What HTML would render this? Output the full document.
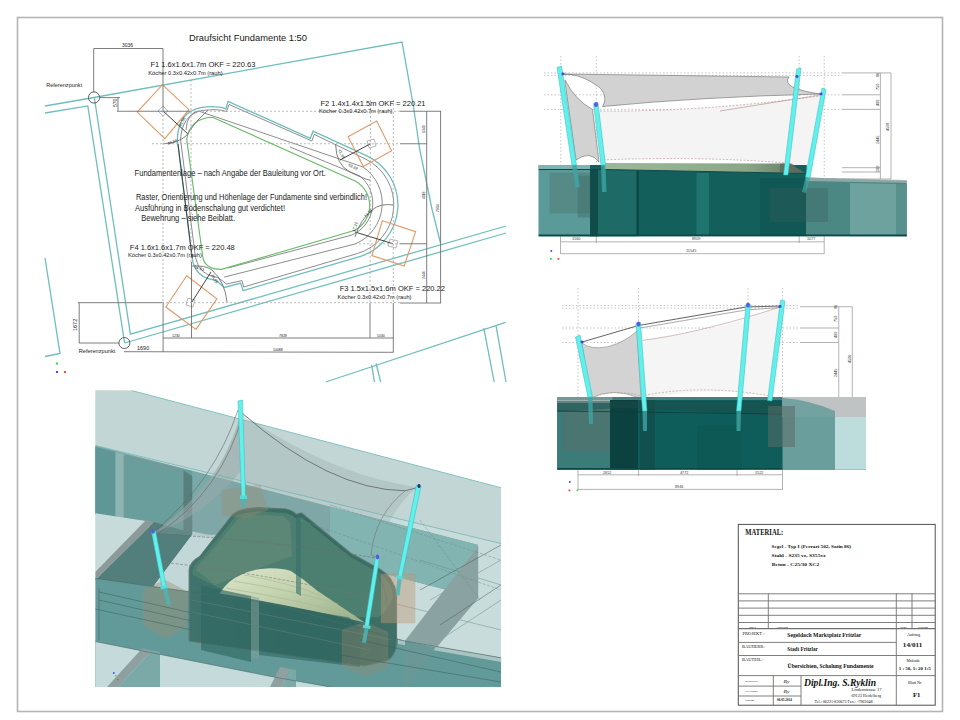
<!DOCTYPE html>
<html><head><meta charset="utf-8">
<style>
html,body{margin:0;padding:0;background:#fff;width:960px;height:720px;overflow:hidden}
svg{display:block}
text{font-family:"Liberation Sans",sans-serif}
.tl{fill:none;stroke:#6fbdbd;stroke-width:1.3}
.dm{fill:none;stroke:#707070;stroke-width:0.9}
.ds{fill:none;stroke:#a8a8a8;stroke-width:0.8;stroke-dasharray:2 2}
.or{fill:none;stroke:#e29a68;stroke-width:1.1}
.gr{fill:none;stroke:#66bb66;stroke-width:1.1}
.g1{fill:none;stroke:#808080;stroke-width:0.9}
.serif text{font-family:"Liberation Serif",serif}
</style></head>
<body>
<svg width="960" height="720" viewBox="0 0 960 720">
<rect x="0" y="0" width="960" height="720" fill="#fff"/>
<!-- page border -->
<rect x="17.5" y="17.5" width="925" height="694" fill="none" stroke="#b4b4b4" stroke-width="1.6"/>

<!-- ================= PLAN VIEW ================= -->
<g id="plan">
<!-- teal property lines -->
<polyline class="tl" points="45,106 94,97.5 402,42 413.4,106 419.8,150 432.2,210 440.5,243"/>
<polyline class="tl" points="45,113 87.8,105.9 124.6,343"/>
<polyline class="tl" points="94.4,98 130.4,334.2 506,226"/>
<polyline class="tl" points="124.6,343 506,233"/>
<polyline class="tl" points="45,258 60,353.5 45,356.5"/>
<polyline class="tl" points="325.7,382 505.6,322.4"/>
<polyline class="tl" points="371.6,364.8 374.5,382"/>
<polyline class="tl" points="376.1,363.5 380.7,382"/>
<polyline class="tl" points="483.8,328.1 494.2,382"/>
<polyline class="tl" points="496,325.4 506,382"/>

<!-- foundation outline -->
<path class="tl" d="M 192.2,258.3 Q 195,278 215.6,280 L 224.4,287.5 L 240.6,283.1 L 243.1,290.6 L 358.9,256.9 A 54.2 54.2 0 0 0 366.3,155.6 L 313.1,131.25 L 310.3,138.3 L 228.1,101.4 L 225.8,108.9 Q 218,105.5 201.6,107.3 Q 178,112 177.3,139.4 Z"/>
<path class="g1" d="M 195.5,257.5 Q 199,275.5 218,277.5 L 226.5,284 L 242,280.6 L 243.6,287 L 357.5,253.5 A 51 51 0 0 0 365.5,159 L 314.2,134.4 L 311.9,141 L 229,104.5 L 226.5,111.5 Q 218,108.5 202,110.5 Q 181.5,115 180.6,140 Z"/>
<path class="g1" stroke="#9a9a9a" d="M 224.2,277.1 L 355,244 A 44 44 0 0 0 363,167 L 198.4,111 Q 187,113 186,130"/>
<path class="g1" stroke="#a0a0a0" d="M 228,268 L 352,235 A 35 35 0 0 0 360,176 L 290,147"/>
<path class="gr" d="M 202.6,255.6 Q 204,269.4 221.4,269.4 L 354.2,230.6 A 28 28 0 0 0 355.6,181.25 L 212.5,117.2 Q 190,118 186.7,139.4 Z"/>
<polyline fill="none" stroke="#404040" stroke-width="1" points="178,144 192.2,258.3"/>
<!-- orange squares -->
<polygon class="or" points="162.5,84.7 189,109.7 164.8,138.6 137.2,112.1"/>
<polygon class="or" points="376.7,121.1 391.6,150.8 363.4,166.4 348.1,136.7"/>
<polygon class="or" points="382.3,220.8 415.6,231.7 404.2,266 371.9,255.6"/>
<polygon class="or" points="186.7,275.8 216.9,298.75 196,329.4 165.8,307"/>
<!-- small koecher squares -->
<polygon fill="none" stroke="#999" stroke-width="0.7" points="163,106 168,111 163,116 158,111"/>
<polygon fill="none" stroke="#999" stroke-width="0.7" points="367,141 374,139 376,146 369,148"/>
<polygon fill="none" stroke="#999" stroke-width="0.7" points="390,239 398,241 396,248 388,246"/>
<polygon fill="none" stroke="#999" stroke-width="0.7" points="188,298 195,300 193,307 186,305"/>
<!-- radial lines -->
<line x1="163" y1="111" x2="188" y2="134" stroke="#303030" stroke-width="0.9"/>
<line x1="370.5" y1="143.75" x2="340" y2="160" stroke="#303030" stroke-width="0.9"/>
<line x1="393" y1="243.75" x2="355" y2="232" stroke="#303030" stroke-width="0.9"/>
<line x1="191.5" y1="302.7" x2="211" y2="272" stroke="#303030" stroke-width="0.9"/>
<!-- angle arcs -->
<path class="dm" d="M 163,143.75 Q 178,143 186,136 Q 196,120 208,110"/>
<path class="dm" d="M 335.6,144.2 Q 336,165 350,172 T 370.3,180.3"/>
<path class="dm" d="M 355,237 Q 360,220 372,210 Q 380,203 394,205"/>
<path class="dm" d="M 191.5,266 Q 205,265 212,270 Q 225,282 227,302"/>
<!-- dimension lines solid -->
<g class="dm">
<polyline points="93.7,92 93.7,48.5 163,48.5 163,111"/>
<line x1="100" y1="97.6" x2="120" y2="97.6"/>
<line x1="118" y1="97.6" x2="118" y2="110.8"/>
<line x1="117" y1="111.25" x2="190" y2="111.25"/>
<line x1="400" y1="111.25" x2="441" y2="111.25"/>
<line x1="400" y1="143.75" x2="427" y2="143.75"/>
<line x1="400" y1="243.75" x2="427" y2="243.75"/>
<line x1="78" y1="302.7" x2="162" y2="302.7"/>
<line x1="400" y1="303" x2="441" y2="303"/>
<line x1="79" y1="343" x2="119" y2="343"/>
<line x1="79.2" y1="303" x2="79.2" y2="343"/>
<line x1="124" y1="351.7" x2="393.3" y2="352.3"/>
<line x1="163" y1="338" x2="393.3" y2="338"/>
<line x1="163.1" y1="302" x2="163.1" y2="352"/>
<line x1="191.5" y1="262" x2="191.5" y2="338"/>
<line x1="370" y1="303" x2="370" y2="338"/>
<line x1="393.3" y1="303" x2="393.3" y2="352.5"/>
<line x1="426.7" y1="111" x2="426.7" y2="303"/>
<line x1="440.6" y1="111" x2="440.6" y2="303"/>
</g>
<g class="ds">
<line x1="190" y1="111.25" x2="400" y2="111.25"/>
<line x1="152" y1="143.75" x2="400" y2="143.75"/>
<line x1="355" y1="243.75" x2="400" y2="243.75"/>
<line x1="162" y1="302.7" x2="400" y2="302.7"/>
<line x1="163" y1="111" x2="163" y2="302"/>
<line x1="191" y1="80" x2="191" y2="262"/>
<line x1="370.5" y1="100" x2="370" y2="303"/>
<line x1="393.3" y1="100" x2="393.3" y2="303"/>
</g>

<g fill="#222" font-size="4">
<text transform="translate(181,127) rotate(-62)">41.55</text>
<text transform="translate(168,145) rotate(-18)">48.85</text>
<text transform="translate(338,150) rotate(62)">41.38</text>
<text transform="translate(348,166) rotate(24)">62.52</text>
<text transform="translate(366,218) rotate(-48)">73.26</text>
<text transform="translate(355,232) rotate(-75)">17.21</text>
<text transform="translate(194,268) rotate(18)">34.63</text>
<text transform="translate(211,275) rotate(62)">29.15</text>
</g>
<!-- circles -->
<circle cx="94" cy="97.5" r="5.6" fill="none" stroke="#505050" stroke-width="0.9"/>
<circle cx="124.4" cy="343" r="5.5" fill="none" stroke="#505050" stroke-width="0.9"/>
<!-- texts -->
<g fill="#1a1a1a">
<text x="189" y="41" font-size="9.5" textLength="118" lengthAdjust="spacingAndGlyphs">Draufsicht Fundamente 1:50</text>
<text x="150.5" y="67.3" font-size="8" textLength="104.8" lengthAdjust="spacingAndGlyphs">F1  1.6x1.6x1.7m  OKF = 220.63</text>
<text x="148.3" y="74.7" font-size="5" textLength="74.3" lengthAdjust="spacingAndGlyphs">Köcher 0.3x0.42x0.7m (rauh)</text>
<text x="320.5" y="105.5" font-size="8" textLength="105" lengthAdjust="spacingAndGlyphs">F2  1.4x1.4x1.5m  OKF = 220.21</text>
<text x="319" y="112.7" font-size="5" textLength="73.5" lengthAdjust="spacingAndGlyphs">Köcher 0.3x0.42x0.7m (rauh)</text>
<text x="134.6" y="175.5" font-size="8.5" textLength="191" lengthAdjust="spacingAndGlyphs">Fundamentenlage – nach Angabe der Bauleitung vor Ort.</text>
<text x="136" y="200" font-size="8.5" textLength="231" lengthAdjust="spacingAndGlyphs">Raster, Orientierung und Höhenlage der Fundamente sind verbindlich!</text>
<text x="135" y="210.6" font-size="8.5" textLength="150" lengthAdjust="spacingAndGlyphs">Ausführung in Bodenschalung gut verdichtet!</text>
<text x="141.2" y="221.1" font-size="8.5" textLength="93.8" lengthAdjust="spacingAndGlyphs">Bewehrung – siehe Beiblatt.</text>
<text x="129.8" y="250.2" font-size="8" textLength="105" lengthAdjust="spacingAndGlyphs">F4  1.6x1.6x1.7m  OKF = 220.48</text>
<text x="128" y="257.3" font-size="5" textLength="73.8" lengthAdjust="spacingAndGlyphs">Köcher 0.3x0.42x0.7m (rauh)</text>
<text x="339.7" y="291" font-size="8" textLength="105.3" lengthAdjust="spacingAndGlyphs">F3  1.5x1.5x1.6m  OKF = 220.22</text>
<text x="337.6" y="298.7" font-size="5" textLength="73.9" lengthAdjust="spacingAndGlyphs">Köcher 0.3x0.42x0.7m (rauh)</text>
<text x="46.2" y="87" font-size="5.5" textLength="36" lengthAdjust="spacingAndGlyphs">Referenzpunkt</text>
<text x="78.7" y="352.8" font-size="5.5" textLength="36.6" lengthAdjust="spacingAndGlyphs">Referenzpunkt</text>
<text x="122" y="47" font-size="5">3036</text>
<text x="137" y="350" font-size="5.5">1690</text>
<text x="172" y="337" font-size="3.5">1230</text>
<text x="279" y="337" font-size="3.5">7828</text>
<text x="377" y="337" font-size="3.5">1030</text>
<text x="273" y="351" font-size="3.5">10088</text>
<text transform="translate(117,107) rotate(-90)" font-size="5">570</text>
<text transform="translate(77,331) rotate(-90)" font-size="5.5">1672</text>
<text transform="translate(425,133) rotate(-90)" font-size="3.5">1340</text>
<text transform="translate(425,199) rotate(-90)" font-size="3.5">4118</text>
<text transform="translate(425,279) rotate(-90)" font-size="3.5">2446</text>
<text transform="translate(439,212) rotate(-90)" font-size="3.5">7904</text>
</g>
<!-- axis marker -->
<rect x="56" y="362.5" width="2" height="2" fill="#33dd33"/>
<rect x="56" y="371" width="2" height="2" fill="#4444ff"/>
<rect x="64" y="371" width="2" height="2" fill="#ff4444"/>
</g>

<!-- ================= ELEVATION 1 (top right) ================= -->
<g id="elev1">
<!-- dotted guides -->
<g fill="none" stroke="#b8b8b8" stroke-width="0.8" stroke-dasharray="1.5 2">
<line x1="560.8" y1="56" x2="560.8" y2="236"/>
<line x1="596.3" y1="56" x2="596.3" y2="236"/>
<line x1="799.2" y1="56" x2="799.2" y2="236"/>
<line x1="824.2" y1="56" x2="824.2" y2="236"/>
<line x1="544" y1="72.9" x2="842" y2="72.9"/>
<line x1="544" y1="75.4" x2="842" y2="75.4"/>
<line x1="544" y1="94.8" x2="842" y2="94.8"/>
<line x1="544" y1="109.4" x2="842" y2="109.4"/>
</g>
<g fill="none" stroke="#a0a0a0" stroke-width="0.8">
<line x1="842" y1="72.9" x2="891" y2="72.9"/>
<line x1="842" y1="94.8" x2="880.4" y2="94.8"/>
<line x1="842" y1="109.4" x2="880.4" y2="109.4"/>
<line x1="842" y1="167.7" x2="880.4" y2="167.7"/>
<line x1="842" y1="172" x2="880.4" y2="172"/>
<line x1="842" y1="179" x2="891" y2="179"/>
<line x1="880.4" y1="72.9" x2="880.4" y2="179"/>
<line x1="891" y1="72.9" x2="891" y2="179"/>
<line x1="560.5" y1="236" x2="560.5" y2="254"/>
<line x1="596.3" y1="236" x2="596.3" y2="243"/>
<line x1="799.2" y1="236" x2="799.2" y2="243"/>
<line x1="824.2" y1="236" x2="824.2" y2="254"/>
<line x1="560.5" y1="241.8" x2="824.2" y2="241.8"/>
<line x1="560.5" y1="253.7" x2="824.2" y2="253.7"/>
</g>
<g fill="#3a3a3a" font-size="3.8">
<text x="572" y="240">1560</text>
<text x="692" y="240">8909</text>
<text x="807" y="240">1077</text>
<text x="686" y="252">11545</text>
<text transform="translate(879,77) rotate(-90)">86</text>
<text transform="translate(879,90) rotate(-90)">750</text>
<text transform="translate(879,106) rotate(-90)">400</text>
<text transform="translate(879,144) rotate(-90)">2445</text>
<text transform="translate(879,172) rotate(-90)">200</text>
<text transform="translate(889,131) rotate(-90)">4508</text>
</g>
<rect x="550.5" y="250" width="1.6" height="2" fill="#5555ff"/>
<rect x="550" y="258" width="1.8" height="1.8" fill="#44dd44"/>
<rect x="557.5" y="258" width="1.8" height="1.8" fill="#ff4444"/>
<!-- light sail region -->
<path fill="#f4f4f4" d="M 600,111 Q 700,112 820,96 L 807,175 L 786,175 L 786,163 Q 700,156 600,160 Z"/>
<!-- dark sail -->
<path fill="#d2d2d2" stroke="#6a6a6a" stroke-width="0.6" d="M 563,74 L 789,77 Q 780,88 820,94 Q 700,97 602.5,106.5 C 607,100 605,90 596,85 Q 585,77 571,74.5 Z"/>
<path fill="#d2d2d2" stroke="#6a6a6a" stroke-width="0.6" d="M 565,80 Q 575,100 592.5,109.4 L 599,162 Q 590,150 576,160 L 565,82 Z"/>
<path fill="none" stroke="#b08888" stroke-width="0.6" stroke-dasharray="2 1.5" d="M 600,111 Q 700,112 820,96"/>
<path fill="none" stroke="#b08888" stroke-width="0.6" stroke-dasharray="2 1.5" d="M 600,160 Q 700,156 786,163"/>
<path fill="none" stroke="#b08888" stroke-width="0.6" d="M 720,111 L 820,95"/>
<!-- block -->
<defs>
<linearGradient id="band1" x1="0" y1="0" x2="1" y2="0">
<stop offset="0" stop-color="#9cb89a"/><stop offset="0.7" stop-color="#8aa888"/><stop offset="1" stop-color="#5f735f"/>
</linearGradient>
</defs>
<rect x="538.75" y="165" width="268" height="71.25" fill="#125f5c"/>
<rect x="538.75" y="165" width="51.25" height="71.25" fill="#5a9a98"/>
<rect x="538.75" y="165" width="51.25" height="4.5" fill="#7eb4b2"/>
<rect x="549.6" y="172.7" width="58.4" height="40.6" fill="#4f7a76" opacity="0.5"/>
<rect x="577.7" y="175.8" width="52" height="41.7" fill="#3f6b67" opacity="0.45"/>
<rect x="590" y="170" width="48" height="66.25" fill="#1d6a67"/>
<rect x="590" y="170" width="8" height="66.25" fill="#0f4c4a"/>
<rect x="636.5" y="170" width="2.2" height="66" fill="#0a4644"/>
<rect x="696.5" y="173" width="12.5" height="63" fill="#1f7470"/>
<rect x="760" y="178" width="46" height="58" fill="#0d5350" opacity="0.6"/>
<polygon fill="url(#band1)" points="604,163 790,163.5 806,173.5 604,169.5"/>
<polygon fill="#4e5e56" opacity="0.5" points="780,163.5 792,163.5 806,173.5 780,172"/>
<polyline fill="none" points="538.75,169.5 604,169.5 806,173.5" stroke="#0e4a47" stroke-width="1"/>
<polygon fill="#4b8783" points="806,177.5 906.75,181 906.75,236.25 806,236.25"/>
<polygon fill="#6ea29f" points="850,183 896,184 896,236.25 850,236.25"/>
<polygon fill="#58908c" points="896,184 906.75,184.5 906.75,236.25 896,236.25"/>
<polygon fill="#98aeac" opacity="0.85" points="806,177.5 906.75,180 906.75,183 806,181"/>
<rect x="770" y="188" width="58" height="34" fill="#3a5e5b" opacity="0.35"/>
<rect x="538.75" y="234.5" width="368" height="1.75" fill="#0a4a47"/>
<!-- masts -->
<polygon fill="#62f0ec" stroke="#36b8b8" stroke-width="0.5" points="557,67.5 561.5,66 576.5,165 572,165.5"/>
<polygon fill="#3fa5a3" opacity="0.8" points="572,165.5 576.5,165 580,187 575.5,188"/>
<polygon fill="#62f0ec" stroke="#36b8b8" stroke-width="0.5" points="593.5,103.5 598,102.5 605.5,165 601,165.5"/>
<polygon fill="#3fa5a3" opacity="0.8" points="601,165.5 605.5,165 606.5,192 602,192"/>
<polygon fill="#62f0ec" stroke="#36b8b8" stroke-width="0.5" points="796.5,69 801,68 788,175 783.5,175"/>
<polygon fill="#62f0ec" stroke="#36b8b8" stroke-width="0.5" points="822,88 826,89.5 810,178 805.5,177"/>
<polygon fill="#3fa5a3" opacity="0.7" points="805.5,177 810,178 806,193 802,192"/>
<ellipse cx="596" cy="104.5" rx="2" ry="2.5" fill="#5a5ae6"/>
<ellipse cx="563" cy="74" rx="1.6" ry="1.4" fill="#4a4ad8"/>
<ellipse cx="797" cy="76.5" rx="1.6" ry="1.4" fill="#4a4ad8"/>
<ellipse cx="821" cy="94" rx="1.6" ry="1.4" fill="#4a4ad8"/>
</g>

<!-- ================= ELEVATION 2 (middle right) ================= -->
<g id="elev2">
<g fill="none" stroke="#b8b8b8" stroke-width="0.8" stroke-dasharray="1.5 2">
<line x1="578" y1="288" x2="578" y2="470"/>
<line x1="638.5" y1="288" x2="638.5" y2="470"/>
<line x1="748" y1="288" x2="748" y2="470"/>
<line x1="782.5" y1="288" x2="782.5" y2="470"/>
<line x1="562" y1="305.5" x2="800" y2="305.5"/>
<line x1="562" y1="308" x2="800" y2="308"/>
<line x1="562" y1="328" x2="800" y2="328"/>
<line x1="562" y1="342.5" x2="800" y2="342.5"/>
</g>
<g fill="none" stroke="#a0a0a0" stroke-width="0.8">
<line x1="800" y1="306.7" x2="852.3" y2="306.7"/>
<line x1="800" y1="328" x2="838.75" y2="328"/>
<line x1="800" y1="342.5" x2="838.75" y2="342.5"/>
<line x1="838.75" y1="306.7" x2="838.75" y2="417"/>
<line x1="852.3" y1="306.7" x2="852.3" y2="417"/>
<line x1="578" y1="470" x2="578" y2="490"/>
<line x1="638.6" y1="470" x2="638.6" y2="476"/>
<line x1="737" y1="470" x2="737" y2="476"/>
<line x1="782.5" y1="470" x2="782.5" y2="490"/>
<line x1="578" y1="474.8" x2="782.5" y2="474.8"/>
<line x1="578" y1="489.4" x2="782.5" y2="489.4"/>
</g>
<g fill="#3a3a3a" font-size="3.8">
<text x="603" y="474">2652</text>
<text x="680" y="474">4772</text>
<text x="755" y="474">1522</text>
<text x="675" y="488">8946</text>
<text transform="translate(837,309) rotate(-90)">86</text>
<text transform="translate(837,322) rotate(-90)">750</text>
<text transform="translate(837,338) rotate(-90)">400</text>
<text transform="translate(837,377) rotate(-90)">2445</text>
<text transform="translate(837,410) rotate(-90)">200</text>
<text transform="translate(851,363) rotate(-90)">4506</text>
</g>
<rect x="569" y="481" width="1.6" height="2" fill="#5555ff"/>
<rect x="568.5" y="489.5" width="1.8" height="1.8" fill="#ff4444"/>
<rect x="576.5" y="489.5" width="1.8" height="1.8" fill="#44dd44"/>
<!-- light sail -->
<path fill="#f5f5f5" d="M 642.7,340.4 Q 700,333 743.75,319.6 L 780.4,307 L 768,395.6 Q 700,385 645,400 Z"/>
<!-- gray sail -->
<path fill="#d3d3d3" stroke="#777" stroke-width="0.5" d="M 582,343 Q 590,350 608,346.7 Q 625,342 637,331 L 641,398.75 Q 612,386 590,398.75 Z"/>
<path fill="none" stroke="#b09090" stroke-width="0.6" d="M 642.7,340.4 Q 700,333 780.4,307"/>
<path fill="none" stroke="#b09090" stroke-width="0.6" stroke-dasharray="2 1.5" d="M 590,399 Q 612,388 641,396 Q 700,384 768,395.6"/>
<path fill="none" stroke="#505050" stroke-width="0.9" d="M 582,342 L 638.5,325.5 L 746,307 L 780,306"/>
<path fill="none" stroke="#888" stroke-width="0.7" d="M 640,328 L 746,310 L 780,307.5"/>
<!-- block -->
<rect x="557.3" y="397" width="308.7" height="72.6" fill="#0f5d5a"/>
<rect x="557.3" y="397" width="53" height="72.6" fill="#3b7c79"/>
<rect x="557.3" y="397" width="55" height="6" fill="#9fb3b1"/>
<rect x="563.5" y="409" width="46.5" height="41.8" fill="#5a6f6a" opacity="0.55"/>
<rect x="610" y="400" width="28" height="69.6" fill="#0b4240"/>
<rect x="640" y="397" width="15" height="72.6" fill="#11504e"/>
<rect x="557.3" y="397" width="225" height="3" fill="#5f8e8b" opacity="0.7"/>
<polygon fill="#1f4a47" opacity="0.45" points="557.3,401 782.5,401 782.5,416 700,411 620,408 557.3,412"/>
<line x1="557.3" y1="411" x2="782.5" y2="414" stroke="#0c3e3c" stroke-width="0.8"/>
<rect x="697" y="425" width="45" height="44.6" fill="#0c5653" opacity="0.6"/>
<rect x="782.5" y="397" width="52.5" height="72.6" fill="#6a9e9c"/>
<rect x="835" y="397" width="31" height="72.6" fill="#bddcdc"/>
<rect x="782.5" y="397" width="83.5" height="20" fill="#bfc3c3"/>
<path fill="#6a9e9c" d="M 782.5,398 Q 810,400 835,411 L 835,417 L 782.5,417 Z" opacity="0.9"/>
<rect x="768" y="406" width="27" height="41" fill="#5a6b67" opacity="0.55"/>
<rect x="557.3" y="468" width="225.2" height="1.6" fill="#0a4a47"/>
<!-- masts -->
<polygon fill="#62f0ec" stroke="#36b8b8" stroke-width="0.5" points="575.5,337 580,335 592.5,397 588,397.5"/>
<polygon fill="#3fa5a3" opacity="0.8" points="588,397.5 592.5,397 593,424 589,424"/>
<polygon fill="#62f0ec" stroke="#36b8b8" stroke-width="0.5" points="636,323 640.5,322.5 647,411 642.5,411"/>
<polygon fill="#3fa5a3" opacity="0.8" points="642.5,411 647,411 647,431 643,431"/>
<polygon fill="#62f0ec" stroke="#36b8b8" stroke-width="0.5" points="746,304 750.5,304.5 741,411 736.5,411"/>
<polygon fill="#3fa5a3" opacity="0.8" points="736.5,411 741,411 740.5,431 736.5,431"/>
<polygon fill="#62f0ec" stroke="#36b8b8" stroke-width="0.5" points="780.5,300 785,301 772,401 767.5,400.5"/>
<ellipse cx="638.5" cy="324" rx="2" ry="2.6" fill="#5a5ae6"/>
<ellipse cx="748" cy="305" rx="2" ry="2.6" fill="#5a5ae6"/>
<ellipse cx="582" cy="342" rx="1.6" ry="1.4" fill="#4a4ad8"/>
<ellipse cx="780" cy="306.5" rx="1.6" ry="1.4" fill="#4a4ad8"/>
</g>

<!-- ================= 3D VIEW ================= -->
<g id="v3d">
<clipPath id="c3d"><rect x="95.25" y="390.25" width="406" height="296.65"/></clipPath>
<g clip-path="url(#c3d)">
<polygon fill="#c9dcdc" points="95.25,390.25 131.6,390.5 501.25,487.8 501.25,686.9 95.25,686.9"/>
<!-- top slab -->
<polygon fill="#c3d6d6" points="95.25,390.25 131.6,390.5 501.25,487.8 501.25,543.6 95.25,445.5"/>
<polyline fill="none" stroke="#7fc0c0" stroke-width="0.9" points="131.6,390.5 501.25,487.8"/>
<!-- middle teal band under slab -->
<polygon fill="#79aaa9" points="95.25,445.5 478,545 478,598 404.8,579 330,560 190,531 95.25,514.7"/>
<!-- upper-left wall panels -->
<polygon fill="#6a9e9c" points="95.25,447 192.2,471 192.2,533 95.25,513.3"/>
<polygon fill="#5f9796" points="95.25,447 115.4,452 115.4,516.5 95.25,513.3"/>
<polygon fill="#8cb5b4" points="115.4,452 124.2,454 124.2,518 115.4,516.5"/>
<polygon fill="none" stroke="#7d9695" stroke-width="1.2" points="124.2,457 183.5,470.5 183.5,532.8 124.2,519"/>
<polygon fill="#577f7d" points="183.5,470.5 192.2,476 192.2,533 183.5,532.8"/>
<!-- light ground left -->
<polygon fill="#c7dbdb" points="95.25,513.3 146,521 95.25,572"/>
<!-- dark beam side face -->
<polygon fill="#527e7c" points="154,522 192.2,533 192.2,534.7 153,587 95.25,580"/>
<!-- gray beam -->
<polygon fill="#8c9a9a" points="146,520 154,522 95.25,580 95.25,572"/>

<!-- light strip -->
<polygon fill="#c2d8d8" points="192.2,534.7 219.4,534.7 188,591 153,587"/>
<polygon fill="#8fb0af" points="219.4,534.7 230,538 200,592 188,591"/>
<!-- sail translucent -->
<path fill="#8fa0a0" opacity="0.28" d="M 241,413 Q 330,475 417,487 Q 385,515 377,557 Q 280,540 153,533 Q 215,500 241,413 Z"/>
<path fill="#9aa9a9" opacity="0.5" d="M 240,415 Q 225,480 155,532 Q 200,520 242,470 Z"/>
<!-- right box top face -->
<polygon fill="#82b4b2" points="330,506.7 478.1,544.8 478.1,598.3 404.8,579 330,560"/>
<g fill="none" stroke="#6d8f8e" stroke-width="0.5"><line x1="420" y1="560" x2="501" y2="585"/><line x1="430" y1="600" x2="501" y2="560"/><line x1="440" y1="640" x2="501" y2="600"/><line x1="380" y1="600" x2="501" y2="630"/></g>
<polygon fill="#8aa3a2" points="404.8,641 478.1,546.4 478.1,598.3 404.8,685.3"/>
<!-- lower wall -->
<polygon fill="#619a98" points="95.25,578.3 270,603.3 404.8,641 501.25,657.8 501.25,686.9 95.25,686.9 95.25,641.5"/>
<polygon fill="#a9c4c3" points="398,640 501.25,658 501.25,662 398,644"/>
<polygon fill="#6a9896" points="405,641 435.6,647.2 407.8,686.9 405,686.9"/>
<polygon fill="#c5dada" points="95.25,641.5 270,676.3 330,686.9 95.25,686.9"/>
<polygon fill="#8fa0a0" points="142,648.5 152,650.5 118,686.9 107,686.9"/>
<polygon fill="#7aa9a7" points="152,650.5 160,652 160,686.9 118,686.9"/>
<polygon fill="#8fa0a0" points="280,667 290,669 282,686.9 270,686.9"/><polygon fill="#7aa9a7" points="290,669 296,670 296,686.9 282,686.9"/>
<!-- foundation -->
<defs>
<linearGradient id="pan" x1="0" y1="0" x2="1" y2="1">
<stop offset="0" stop-color="#dde6cb"/><stop offset="0.4" stop-color="#c6d4b1"/><stop offset="1" stop-color="#97ad88"/>
</linearGradient>
<linearGradient id="fface" x1="0" y1="0" x2="1" y2="0">
<stop offset="0" stop-color="#3f736b"/><stop offset="0.6" stop-color="#356b62"/><stop offset="1" stop-color="#3d6f66"/>
</linearGradient>
</defs>
<path fill="url(#fface)" stroke="#5b7774" stroke-width="1.2" d="M 189.2,641 L 189.2,569.8 Q 190,562 199.8,556.6 L 232.8,514.3 Q 240,508 259.2,507.7 L 285.6,509 Q 292,510 296.2,514.3 L 301.5,513 L 351.6,553.9 L 356.9,556.6 L 380.7,569.8 Q 393,577 396.5,593.5 L 396.5,643.7 Q 395,660 380.7,662.2 L 364.8,666 Z"/>
<path fill="#4c7f70" d="M 192.5,575 L 192.5,570 Q 194,563 202,558 L 235,517 Q 242,512 259,511.5 L 285,513 Q 291,514 295,518 L 301,517 L 351,557.5 L 356,560 L 379,573 Q 391,580 393.5,596 Q 388,612 378,617.3 L 349,617.3 L 219.6,588.2 Z"/>
<path fill="#6a8c7c" opacity="0.55" d="M 196,570 Q 198,563 205,559 L 237,520 Q 244,515 259,515 L 284,516 L 290,522 L 292,556 L 215,585 Z"/>
<path fill="url(#pan)" d="M 219.6,593.5 Q 228,580 240.7,575 Q 252,569 267,568.4 Q 282,568 290.9,571 Q 305,580 317.3,590.8 L 364.8,622.5 Q 300,607 219.6,593.5 Z"/>
<path fill="none" stroke="#a9bb95" stroke-width="0.7" d="M 226,588 Q 300,600 355,616 M 234,581 Q 300,592 338,604 M 244,575 Q 290,583 322,596"/>
<polygon fill="#2f6863" opacity="0.65" points="201,585.6 251,596 251,662 201,650"/>
<polygon fill="#2e6560" opacity="0.6" points="259,603 349,617.3 360,628 360,667 259,655"/>
<polygon fill="#7f9d9a" opacity="0.5" points="251,596 259,598 259,660 251,658"/>
<polygon fill="#35706a" opacity="0.6" points="296,516 301,514 301,596 296,593"/>
<path fill="none" stroke="#456f68" stroke-width="0.8" d="M 378,574 Q 392,600 386,630 Q 374,655 345,664"/>
<path fill="none" stroke="#5f7e7a" stroke-width="0.6" d="M 192,600 L 392,640 M 192,612 L 370,650"/>
<!-- orange koecher boxes -->
<polygon fill="#a08c70" opacity="0.35" stroke="#b08a6a" stroke-width="0.5" points="222,490 260,485 268,510 245,518 222,515"/>
<polygon fill="#a08c70" opacity="0.4" stroke="#b08a6a" stroke-width="0.5" points="143.5,590 165,580 188,592 186,628 165,638 143.5,625"/>
<polygon fill="#c09a78" opacity="0.45" stroke="#b08a6a" stroke-width="0.5" points="381,574 415,574 415,623 381,623"/>
<polygon fill="#9a8a70" opacity="0.35" stroke="#b08a6a" stroke-width="0.5" points="342,630 365,622 388,632 388,668 365,676 342,666"/>
<!-- cables -->
<path fill="none" stroke="#555" stroke-width="0.7" d="M 242,413 Q 330,490 405,490.8 L 416,488"/>
<path fill="none" stroke="#666" stroke-width="0.6" d="M 238,410 Q 215,480 155,531"/>
<path fill="none" stroke="#666" stroke-width="0.6" d="M 243,414 Q 222,490 159,533"/>
<path fill="none" stroke="#777" stroke-width="0.6" d="M 405,491 Q 375,515 371,555 L 376,557"/>
<path fill="none" stroke="#6f6f6f" stroke-width="0.6" stroke-dasharray="3 1.5" d="M 157,534 Q 270,540 376,558"/>
<path fill="none" stroke="#777" stroke-width="0.6" stroke-dasharray="3 1.5" d="M 140,560 Q 250,570 380,600"/>
<path fill="none" stroke="#6e8e8c" stroke-width="0.5" stroke-dasharray="3 1.5" d="M 300,520 L 501,590 M 330,505 L 501,560 M 420,520 L 480,600"/>
<!-- dark edge lines -->
<g fill="none" stroke="#3f5f5d" stroke-width="0.5">
<line x1="99" y1="592" x2="192" y2="613"/>
<line x1="99" y1="600" x2="192" y2="621"/>
<line x1="95.25" y1="609" x2="192" y2="630"/>
<line x1="99" y1="588" x2="99" y2="640"/>
<line x1="360" y1="640" x2="501" y2="672"/>
<line x1="340" y1="655" x2="501" y2="682"/>
<line x1="420" y1="590" x2="501" y2="545"/>
<line x1="440" y1="625" x2="501" y2="585"/>
</g>
<polyline fill="none" stroke="#4a6b6a" stroke-width="0.6" points="95.25,578.3 270,603.3 404.8,641 501.25,657.8"/>
<polyline fill="none" stroke="#4a6b6a" stroke-width="0.6" points="95.25,641.5 270,676.3 330,686.9"/>
<polyline fill="none" stroke="#6ab0ae" stroke-width="0.7" points="95.25,445.5 501.25,543.6"/>
<!-- masts -->
<polygon fill="#62f0ec" stroke="#36b8b8" stroke-width="0.5" points="238,401 242.5,400 245.5,497 241.5,497"/>
<rect x="240" y="495.5" width="7" height="3.5" fill="#52dcdc"/>
<polygon fill="#4fb5b3" opacity="0.85" points="241.5,499 245.5,499 245.5,507 241.5,507"/>
<polygon fill="#62f0ec" stroke="#36b8b8" stroke-width="0.5" points="151.5,532 155.5,530.5 166.5,588 162.5,589"/>
<rect x="160.5" y="586" width="7.5" height="3" fill="#52dcdc" transform="rotate(-10 164 587)"/>
<polygon fill="#4fb5b3" opacity="0.85" points="163,589 167,588 171,605 167,606"/>
<polygon fill="#62f0ec" stroke="#36b8b8" stroke-width="0.5" points="416.5,485 421,486.5 401.5,578.5 397.5,578"/>
<rect x="396" y="576" width="7.5" height="3" fill="#52dcdc" transform="rotate(12 400 577)"/>
<polygon fill="#4fb5b3" opacity="0.85" points="397.5,579 401.5,579.5 399.5,595.5 395.5,595"/>
<polygon fill="#62f0ec" stroke="#36b8b8" stroke-width="0.5" points="375.5,557 379.5,557.5 368.5,627.5 364.5,627"/>
<rect x="363" y="625.5" width="7.5" height="3" fill="#52dcdc" transform="rotate(9 366.7 627)"/>
<polygon fill="#4fb5b3" opacity="0.85" points="364.5,628.5 368.5,629 366,643 362,642.5"/>
<ellipse cx="153" cy="531.5" rx="1.8" ry="2.2" fill="#5a5ae6"/>
<ellipse cx="377.5" cy="557" rx="1.8" ry="2.4" fill="#5a5ae6"/>
<ellipse cx="419" cy="486" rx="1.6" ry="2" fill="#2a2a6a"/>
<!-- axis -->
<rect x="113" y="672" width="1.5" height="2" fill="#5555ff"/>
<rect x="115" y="675" width="1.5" height="1.5" fill="#44dd44"/>
<rect x="117" y="679" width="1.5" height="1.5" fill="#ff4444"/>
</g>
</g>

<!-- ================= TITLE BLOCK ================= -->
<g id="tb" fill="none" stroke="#707070" stroke-width="0.9">
<rect x="738.3" y="524.4" width="196.9" height="180.8" stroke="#505050" stroke-width="1"/>
<line x1="738.3" y1="593.8" x2="935.2" y2="593.8"/>
<line x1="738.3" y1="600.9" x2="935.2" y2="600.9"/>
<line x1="738.3" y1="608.1" x2="935.2" y2="608.1"/>
<line x1="738.3" y1="615.3" x2="935.2" y2="615.3"/>
<line x1="738.3" y1="622.5" x2="935.2" y2="622.5"/>
<line x1="738.3" y1="628.6" x2="935.2" y2="628.6" stroke-width="1.1"/>
<line x1="768.3" y1="593.8" x2="768.3" y2="628.6"/>
<line x1="896.3" y1="593.1" x2="896.3" y2="705.2"/>
<line x1="912" y1="593.1" x2="912" y2="628.6"/>
<line x1="738.3" y1="642.4" x2="896.3" y2="642.4"/>
<line x1="738.3" y1="655.5" x2="935.2" y2="655.5"/>
<line x1="738.3" y1="675.6" x2="935.2" y2="675.6"/>
<line x1="773.3" y1="675.6" x2="773.3" y2="705.2"/>
<line x1="801" y1="675.6" x2="801" y2="705.2"/>
<line x1="738.3" y1="686.1" x2="801" y2="686.1"/>
<line x1="738.3" y1="696" x2="801" y2="696"/>
</g>
<g fill="#111" class="serif" font-family="Liberation Serif, serif">
<text x="745.3" y="534.7" font-size="7.2" font-weight="bold" textLength="38" lengthAdjust="spacingAndGlyphs">MATERIAL:</text>
<text x="771.6" y="547.8" font-size="4.6" font-weight="bold" textLength="79.5" lengthAdjust="spacingAndGlyphs">Segel  -  Typ I (Ferrari  502, Satin 86)</text>
<text x="771.6" y="557.2" font-size="4.6" font-weight="bold" textLength="54" lengthAdjust="spacingAndGlyphs">Stahl  -  S235 vz, S355vz</text>
<text x="771.8" y="565.75" font-size="4.6" font-weight="bold" textLength="47.5" lengthAdjust="spacingAndGlyphs">Beton  -  C25/30 XC2</text>
<text x="742.5" y="634.5" font-size="4.3" textLength="22" lengthAdjust="spacingAndGlyphs">PROJEKT :</text>
<text x="787.3" y="636.8" font-size="5.4" font-weight="bold" textLength="74" lengthAdjust="spacingAndGlyphs">Segeldach Marktplatz Fritzlar</text>
<text x="907" y="635.5" font-size="4.3" textLength="13" lengthAdjust="spacingAndGlyphs">Auftrag</text>
<text x="902.8" y="647.3" font-size="6.6" font-weight="bold" textLength="19.5" lengthAdjust="spacingAndGlyphs">14/011</text>
<text x="742" y="648.2" font-size="4.3" textLength="22.5" lengthAdjust="spacingAndGlyphs">BAUHERR:</text>
<text x="787.3" y="651" font-size="5.4" font-weight="bold" textLength="30.5" lengthAdjust="spacingAndGlyphs">Stadt Fritzlar</text>
<text x="742" y="661.3" font-size="4.3" textLength="21.5" lengthAdjust="spacingAndGlyphs">BAUTEIL :</text>
<text x="787.6" y="668" font-size="5.4" font-weight="bold" textLength="86" lengthAdjust="spacingAndGlyphs">Übersichten, Schalung Fundamente</text>
<text x="906.5" y="662" font-size="4.3" textLength="13" lengthAdjust="spacingAndGlyphs">Maßstab</text>
<text x="898.8" y="670.2" font-size="4.6" font-weight="bold" textLength="32" lengthAdjust="spacingAndGlyphs">1 : 50, 1: 20 1:5</text>
<text x="745" y="681.6" font-size="2.8" textLength="13" lengthAdjust="spacingAndGlyphs">Bearbeiter</text>
<text x="783.5" y="682.5" font-size="4.6" font-style="italic" textLength="6" lengthAdjust="spacingAndGlyphs">Ry</text>
<text x="745" y="691.5" font-size="2.8" textLength="13" lengthAdjust="spacingAndGlyphs">Gezeichnet</text>
<text x="783.5" y="692.5" font-size="4.6" font-style="italic" textLength="6" lengthAdjust="spacingAndGlyphs">Ry</text>
<text x="745" y="701.4" font-size="2.8" textLength="9" lengthAdjust="spacingAndGlyphs">Datum</text>
<text x="777" y="701.4" font-size="3" font-weight="bold" textLength="15" lengthAdjust="spacingAndGlyphs">06.05.2014</text>
<text x="804" y="685.8" font-size="9.6" font-weight="bold" font-style="italic" textLength="72" lengthAdjust="spacingAndGlyphs">Dipl.Ing. S.Ryklin</text>
<text x="851.5" y="691.3" font-size="3" textLength="30" lengthAdjust="spacingAndGlyphs">Lindenstrasse 17</text>
<text x="851.5" y="696.6" font-size="3" textLength="29.5" lengthAdjust="spacingAndGlyphs">69123 Heidelberg</text>
<text x="814.5" y="702.6" font-size="3" textLength="58" lengthAdjust="spacingAndGlyphs">Tel.: 06221-830673  Fax.: -7963048</text>
<text x="908" y="684" font-size="4.3" textLength="13.5" lengthAdjust="spacingAndGlyphs">Blatt Nr</text>
<text x="913" y="696.5" font-size="7" font-weight="bold" textLength="7.5" lengthAdjust="spacingAndGlyphs">F1</text>
<text x="749" y="627.7" font-size="2.2" textLength="7" lengthAdjust="spacingAndGlyphs">Index</text>
<text x="776" y="627.7" font-size="2.2" textLength="12" lengthAdjust="spacingAndGlyphs">Änderung</text>
<text x="900" y="627.7" font-size="2.2" textLength="7" lengthAdjust="spacingAndGlyphs">Name</text>
<text x="918" y="627.7" font-size="2.2" textLength="10" lengthAdjust="spacingAndGlyphs">Datum</text>
</g>
</svg>
</body></html>
